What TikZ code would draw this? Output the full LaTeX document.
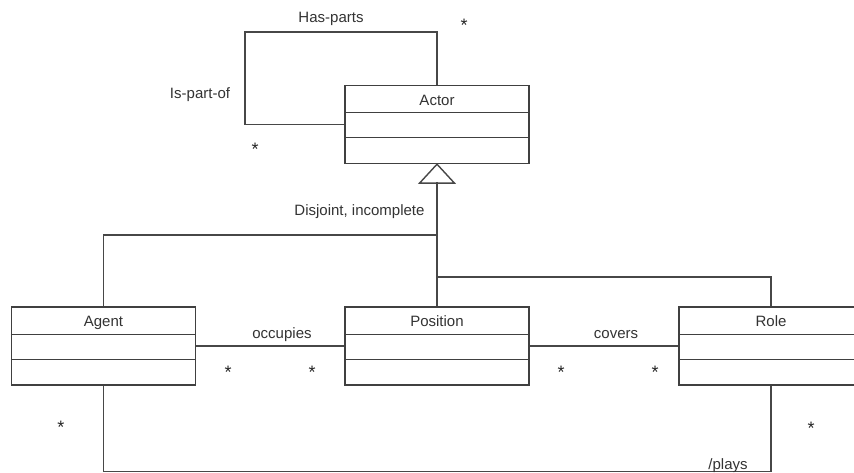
\documentclass[tikz,border=0pt]{standalone}
\usepackage{fontspec}
\setmainfont{Liberation Sans}
\begin{document}
\begin{tikzpicture}[x=1pt,y=-1pt,
  umlbox/.style={draw=black!75, line width=1.4pt, fill=white, minimum width=184pt, minimum height=78pt, inner sep=0pt},
  conn/.style={draw=black!72, line width=1.4pt},
  lbl/.style={anchor=base, inner sep=0pt, text=black!80, font=\fontsize{15}{18}\selectfont},
  star/.style={anchor=base, inner sep=0pt, text=black!85, font=\fontsize{18}{20}\selectfont}]
\useasboundingbox (0,0) rectangle (854,473);
\clip (0,0) rectangle (854,473);
\fill[white] (0,0) rectangle (854,473);

% boxes
\node[umlbox] (actor) at (437,124.5) {};
\node[umlbox] (agent) at (103.5,346) {};
\node[umlbox] (position) at (437,346) {};
\node[umlbox] (role) at (771,346) {};

% compartments
\foreach \b in {actor,agent,position,role}{
  \draw[black!75, line width=1.4pt] ([yshift=-28pt]\b.north west) -- ([yshift=-28pt]\b.north east);
  \draw[black!75, line width=1.4pt] ([yshift=-53pt]\b.north west) -- ([yshift=-53pt]\b.north east);
}

% class names
\node[lbl] (actorname) at (437,105.5) {Actor};
\node[lbl] (agentname) at (103.5,326.5) {Agent};
\node[lbl] (positionname) at (437,326.5) {Position};
\node[lbl] (rolename) at (771,326.5) {Role};

% self association
\coordinate (loopcorner) at (245,32);
\draw[conn] (actor.west) -| (loopcorner) -| (actor.north);
\node[lbl] (hasparts) at (331,22.5) {Has-parts};
\node[lbl] (ispartof) at (200,99) {Is-part-of};
\node[star] (s1) at (464,32) {*};
\node[star] (s2) at (255,156) {*};

% generalization
\draw[conn, fill=white] (actor.south) -- ++(-17.5,19) -- ++(35,0) -- cycle;
\coordinate (gen) at (437,182);
\coordinate (branchagent) at (437,235);
\coordinate (branchrole) at (437,277);
\draw[conn] (gen) -- (position.north);
\draw[conn] (branchagent) -| (agent.north);
\draw[conn] (branchrole) -| (role.north);
\node[lbl] (disjoint) at (359.5,215) {Disjoint, incomplete};

% occupies
\draw[conn] (agent.east) -- (position.west);
\node[lbl] (occupies) at (282,338) {occupies};
\node[star] (s3) at (228,378) {*};
\node[star] (s4) at (312,378) {*};

% covers
\draw[conn] (position.east) -- (role.west);
\node[lbl] (covers) at (616,338) {covers};
\node[star] (s5) at (561,378) {*};
\node[star] (s6) at (655,378) {*};

% plays
\coordinate (playsbottom) at (103.5,471.5);
\draw[conn] (agent.south) -- (playsbottom) -| (role.south);
\node[lbl] (plays) at (728,469) {/plays};
\node[star] (s7) at (61,433) {*};
\node[star] (s8) at (811,434) {*};
\end{tikzpicture}
\end{document}
